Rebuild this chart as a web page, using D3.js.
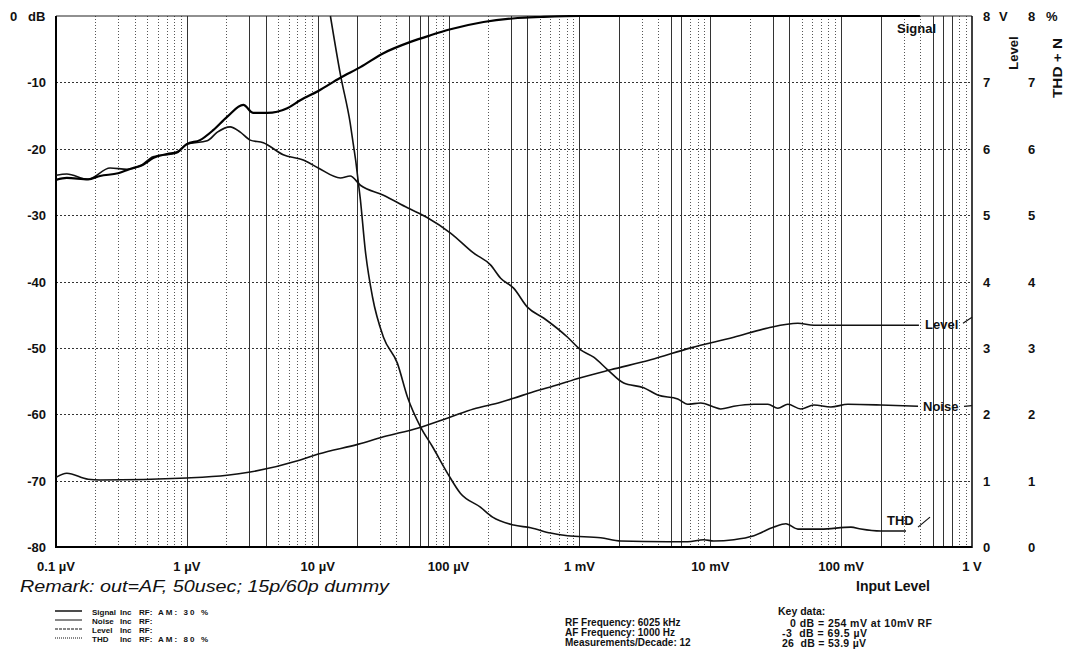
<!DOCTYPE html>
<html>
<head>
<meta charset="utf-8">
<script src="https://cdn.jsdelivr.net/npm/d3@7"></script>
<style>
body { margin: 0; background: #fff; }
text { font-family: "Liberation Sans", Arial, sans-serif; fill: #111; }
</style>
</head>
<body>
<svg id="chart" width="1065" height="671"></svg>
<script>
// input levels are in µV (1 V = 1e6 µV)
const signalX  = [0.1, 0.121, 0.176, 0.217, 0.298, 0.388, 0.463, 0.552, 0.707, 0.843, 1.0, 1.26, 1.59, 2.03, 2.70, 3.22, 4.11, 5.85, 7.36, 10.1, 14.9, 21.2, 31.8, 51.2, 72.8, 103.5, 185, 337, 505, 1000, 10000, 100000, 400000];
const signalDb = [-24.7, -24.4, -24.6, -24.1, -23.7, -22.9, -22.4, -21.4, -20.8, -20.5, -19.3, -18.7, -17.2, -15.2, -13.4, -14.6, -14.6, -13.9, -12.7, -11.3, -9.3, -7.7, -5.6, -3.9, -2.9, -2.0, -0.9, -0.3, -0.15, 0, 0, 0, 0];

const noiseX  = [0.1, 0.121, 0.176, 0.259, 0.349, 0.44, 0.552, 0.843, 1.0, 1.43, 1.71, 2.14, 2.56, 3.05, 3.84, 5.45, 7.76, 10.1, 14.9, 17.7, 21.2, 31.8, 48.5, 69.0, 103.5, 155, 209, 250, 314, 402, 532, 812, 1021, 1285, 1644, 2179, 3098, 3963, 5641, 6724, 8455, 10630, 12020, 15130, 21530, 27550, 32830, 39170, 49230, 61900, 83500, 112700, 201400, 387000];
const noiseDb = [-24.0, -23.8, -24.6, -22.9, -23.1, -22.6, -21.2, -20.6, -19.3, -18.8, -17.5, -16.7, -17.5, -18.7, -19.1, -20.9, -21.7, -22.9, -24.4, -24.1, -25.5, -27.0, -28.9, -30.4, -32.7, -35.7, -37.5, -39.5, -41.0, -43.9, -45.5, -48.4, -50.3, -51.4, -53.3, -55.3, -56.0, -57.1, -57.7, -58.5, -58.3, -58.9, -59.2, -58.8, -58.5, -58.5, -59.1, -58.5, -59.2, -58.6, -58.9, -58.5, -58.6, -58.8];

const levelX = [0.1, 0.121, 0.176, 0.217, 1.0, 2.03, 3.05, 7.36, 10.1, 20.5, 31.8, 57.8, 103.5, 155, 250, 314, 446, 602, 1021, 1734, 3506, 7091, 15130, 27550, 46700, 61900, 112700, 393000];
const levelV = [1.05, 1.11, 1.02, 1.01, 1.04, 1.08, 1.13, 1.31, 1.40, 1.55, 1.66, 1.79, 1.96, 2.08, 2.18, 2.24, 2.34, 2.41, 2.55, 2.67, 2.82, 3.00, 3.16, 3.30, 3.37, 3.34, 3.34, 3.34];

const thdX   = [12.5, 14.9, 17.7, 21.2, 23.1, 26.2, 31.8, 40.6, 48.5, 61.0, 75.4, 98.2, 123, 175, 217, 314, 424, 602, 812, 1453, 2066, 4729, 6724, 8914, 10630, 15130, 21530, 30620, 37840, 46700, 70000, 118800, 141600, 201400, 313000];
const thdPct = [8.0, 7.12, 6.39, 5.23, 4.47, 3.77, 3.16, 2.77, 2.26, 1.81, 1.51, 1.11, 0.81, 0.60, 0.45, 0.33, 0.29, 0.21, 0.17, 0.14, 0.09, 0.08, 0.08, 0.11, 0.09, 0.11, 0.17, 0.30, 0.35, 0.27, 0.27, 0.30, 0.27, 0.24, 0.24];

const xTicks = [0.1, 1, 10, 100, 1000, 10000, 100000, 1000000];
const xTickLabels = ["0.1 µV", "1 µV", "10 µV", "100 µV", "1 mV", "10 mV", "100 mV", "1 V"];
const dbTicks = [-10, -20, -30, -40, -50, -60, -70, -80];
const rightTicks = [7, 6, 5, 4, 3, 2, 1, 0];
// grid lines that print solid in the original sheet
const solidGrid = [1, 3, 4, 10, 20, 50, 60, 70, 100, 300, 400, 1000, 2000, 5000, 6000, 10000, 30000, 40000, 100000, 200000, 500000, 600000, 700000];

const legendNames = ["Signal", "Noise", "Level", "THD"];
const legendAm = ["AM: 30 %", "", "", "AM: 80 %"];
const infoLines = ["RF Frequency: 6025 kHz", "AF Frequency: 1000 Hz", "Measurements/Decade: 12"];
const keyLines = ["0 dB = 254 mV at 10mV RF", "-3  dB = 69.5 µV", "26  dB = 53.9 µV"];

function draw() {
  var svg = d3.select("#chart");
  var pLeft = 56, pRight = 972, pTop = 16, pBottom = 547;

  var x = d3.scaleLog().domain([0.1, 1e6]).range([pLeft, pRight]);
  var y = d3.scaleLinear().domain([-80, 0]).range([pBottom, pTop]);
  var yR = d3.scaleLinear().domain([0, 8]).range([pBottom, pTop]);

  svg.append("rect").attr("width", 1065).attr("height", 671).attr("fill", "#fff");

  svg.append("clipPath").attr("id", "plot")
    .append("rect").attr("x", pLeft).attr("y", pTop - 1).attr("width", pRight - pLeft).attr("height", pBottom - pTop + 2);

  // vertical grid, every 1..9 of each decade
  var gridVals = [];
  for (var d = 0.1; d < 1e6; d *= 10) {
    for (var k = 1; k <= 9; k++) {
      var v = +(d * k).toPrecision(3);
      if (v > 0.1) gridVals.push(v);
    }
  }

  var grid = svg.append("g");
  grid.selectAll("line.v")
    .data(gridVals)
    .enter()
    .append("line")
    .attr("x1", function(d) { return Math.round(x(d)) + 0.5; })
    .attr("x2", function(d) { return Math.round(x(d)) + 0.5; })
    .attr("y1", pTop)
    .attr("y2", pBottom)
    .attr("stroke", function(d) { return solidGrid.indexOf(d) >= 0 ? "#333" : "#555"; })
    .attr("stroke-width", 1)
    .attr("stroke-dasharray", function(d) { return solidGrid.indexOf(d) >= 0 ? null : "1,2"; });

  grid.selectAll("line.h")
    .data(dbTicks.filter(function(d) { return d > -80; }))
    .enter()
    .append("line")
    .attr("x1", pLeft)
    .attr("x2", pRight)
    .attr("y1", function(d) { return Math.round(y(d)) + 0.5; })
    .attr("y2", function(d) { return Math.round(y(d)) + 0.5; })
    .attr("stroke", "#333")
    .attr("stroke-dasharray", "2,2");

  // frame
  svg.append("line").attr("x1", pLeft).attr("x2", pRight).attr("y1", pTop).attr("y2", pTop).attr("stroke", "#222").attr("stroke-width", 1.2);
  svg.append("line").attr("x1", pLeft).attr("x2", pLeft).attr("y1", pTop).attr("y2", pBottom + 1).attr("stroke", "#000").attr("stroke-width", 2);
  svg.append("line").attr("x1", pRight).attr("x2", pRight).attr("y1", pTop).attr("y2", pBottom + 1).attr("stroke", "#000").attr("stroke-width", 1.5);
  svg.append("line").attr("x1", pLeft).attr("x2", pRight).attr("y1", pBottom).attr("y2", pBottom).attr("stroke", "#000").attr("stroke-width", 2);

  // curves
  var lineDb = d3.line().x(function(d) { return x(d[0]); }).y(function(d) { return y(d[1]); }).curve(d3.curveMonotoneX);
  var lineR = d3.line().x(function(d) { return x(d[0]); }).y(function(d) { return yR(d[1]); }).curve(d3.curveMonotoneX);

  var curves = svg.append("g").attr("clip-path", "url(#plot)");
  curves.append("path").datum(d3.zip(noiseX, noiseDb)).attr("d", lineDb)
    .attr("fill", "none").attr("stroke", "#111").attr("stroke-width", 1.6);
  curves.append("path").datum(d3.zip(levelX, levelV)).attr("d", lineR)
    .attr("fill", "none").attr("stroke", "#111").attr("stroke-width", 1.6);
  curves.append("path").datum(d3.zip(thdX, thdPct)).attr("d", lineR)
    .attr("fill", "none").attr("stroke", "#111").attr("stroke-width", 1.6);
  curves.append("path").datum(d3.zip(signalX, signalDb)).attr("d", lineDb)
    .attr("fill", "none").attr("stroke", "#000").attr("stroke-width", 2.2);

  // curve labels
  var lab = svg.append("g").attr("font-weight", "bold").attr("font-size", 13);
  lab.append("text").attr("x", pRight - 75).attr("y", y(-2.6)).text("Signal");
  lab.append("text").attr("x", pRight - 47).attr("y", yR(3.34) + 4).text("Level");
  lab.append("text").attr("x", pRight - 49).attr("y", yR(2.12) + 5).text("Noise");
  lab.append("text").attr("x", pRight - 85).attr("y", yR(0.33)).text("THD");
  var lead = svg.append("g").attr("stroke", "#111").attr("stroke-width", 1.2);
  lead.append("line").attr("x1", pRight - 9).attr("y1", yR(3.37)).attr("x2", pRight).attr("y2", yR(3.46));
  lead.append("line").attr("x1", pRight - 8).attr("y1", yR(2.12)).attr("x2", pRight).attr("y2", yR(2.13));
  lead.append("line").attr("x1", pRight - 54).attr("y1", yR(0.3)).attr("x2", pRight - 42).attr("y2", yR(0.45));

  // left axis labels
  var ax = svg.append("g").attr("font-weight", "bold").attr("font-size", 13);
  ax.append("text").attr("x", 10).attr("y", y(0) + 5).text("0");
  ax.append("text").attr("x", 28).attr("y", y(0) + 5).text("dB");
  ax.selectAll("text.db")
    .data(dbTicks)
    .enter()
    .append("text")
    .attr("x", 46)
    .attr("y", function(d) { return y(d) + 5; })
    .attr("text-anchor", "end")
    .text(function(d) { return d; });

  // right axis labels
  ax.append("text").attr("x", 983).attr("y", yR(8) + 5).text("8");
  ax.append("text").attr("x", 999).attr("y", yR(8) + 5).text("V");
  ax.append("text").attr("x", 1028).attr("y", yR(8) + 5).text("8");
  ax.append("text").attr("x", 1046).attr("y", yR(8) + 5).text("%");
  ax.selectAll("text.r1")
    .data(rightTicks)
    .enter()
    .append("text")
    .attr("x", 983)
    .attr("y", function(d) { return yR(d) + 5; })
    .text(function(d) { return d; });
  ax.selectAll("text.r2")
    .data(rightTicks)
    .enter()
    .append("text")
    .attr("x", 1028)
    .attr("y", function(d) { return yR(d) + 5; })
    .text(function(d) { return d; });
  ax.append("text").attr("transform", "translate(1018,53) rotate(-90)").attr("text-anchor", "middle").attr("font-size", 13).text("Level");
  ax.append("text").attr("transform", "translate(1062,68) rotate(-90)").attr("text-anchor", "middle").attr("font-size", 13.5)
    .attr("textLength", 60).attr("lengthAdjust", "spacingAndGlyphs").text("THD + N");

  // bottom axis labels
  ax.selectAll("text.x")
    .data(xTicks)
    .enter()
    .append("text")
    .attr("x", function(d) { return x(d); })
    .attr("y", 571)
    .attr("text-anchor", "middle")
    .text(function(d, i) { return xTickLabels[i]; });
  ax.append("text").attr("x", 930).attr("y", 591).attr("text-anchor", "end").attr("font-size", 14).text("Input Level");

  svg.append("text").attr("x", 20).attr("y", 592)
    .attr("font-size", 16).attr("font-style", "italic").attr("fill", "#222")
    .attr("textLength", 369).attr("lengthAdjust", "spacingAndGlyphs")
    .text("Remark: out=AF, 50usec; 15p/60p dummy");

  // legend
  var leg = svg.append("g").attr("font-size", 8).attr("font-weight", "bold");
  var legDash = [null, null, "3,1", "1,1"];
  legendNames.forEach(function(n, i) {
    var yy = 611 + i * 9;
    leg.append("line").attr("x1", 55).attr("x2", 82).attr("y1", yy).attr("y2", yy)
      .attr("stroke", "#111").attr("stroke-width", i == 0 ? 1.5 : 1).attr("stroke-dasharray", legDash[i]);
    leg.append("text").attr("x", 92).attr("y", yy + 3.5).text(n);
    leg.append("text").attr("x", 120).attr("y", yy + 3.5).text("Inc");
    leg.append("text").attr("x", 139).attr("y", yy + 3.5).text("RF:");
    if (legendAm[i]) {
      leg.append("text").attr("x", 158).attr("y", yy + 3.5)
        .attr("textLength", 50).attr("lengthAdjust", "spacing").text(legendAm[i]);
    }
  });

  var info = svg.append("g").attr("font-size", 10).attr("font-weight", "bold");
  infoLines.forEach(function(t, i) {
    info.append("text").attr("x", 565).attr("y", 626 + i * 10).text(t);
  });
  info.append("text").attr("x", 778).attr("y", 615).attr("font-size", 10.5).text("Key data:");
  var keyW = [142, 85, 84];
  keyLines.forEach(function(t, i) {
    info.append("text").attr("x", i == 0 ? 790 : 782).attr("y", 627 + i * 10)
      .attr("font-size", 10.5).style("white-space", "pre")
      .attr("textLength", keyW[i]).attr("lengthAdjust", "spacing").text(t);
  });
}
draw();
</script>
</body>
</html>
